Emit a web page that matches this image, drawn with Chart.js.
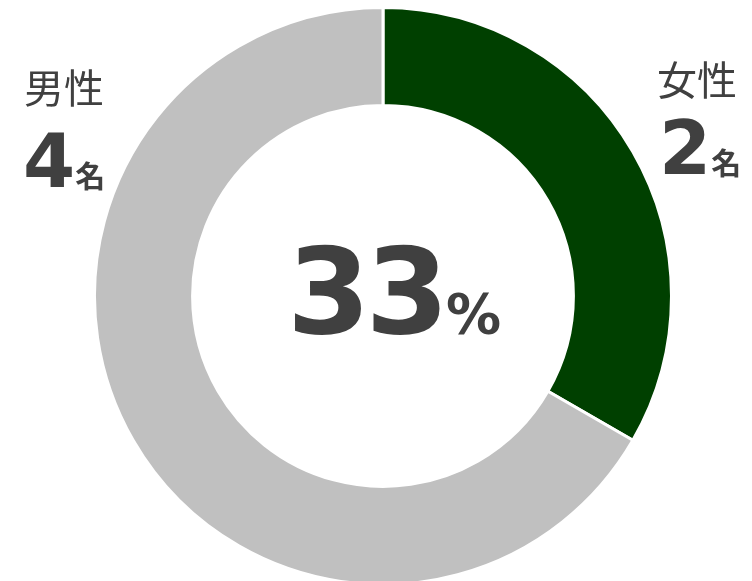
<!DOCTYPE html>
<html lang="ja">
<head>
  <meta charset="UTF-8">
  <title>男女比</title>
  <script src="https://cdn.jsdelivr.net/npm/chart.js"></script>
  <style>
    html, body { margin: 0; padding: 0; background: #ffffff; overflow: hidden; }
    .wrap { position: relative; width: 752px; height: 590px; }
    .lbl { position: absolute; color: #404040; line-height: 1; white-space: nowrap; }
    .cat { font-family: "Noto Sans CJK JP", sans-serif; font-size: 40px; }
    .num { font-family: "DejaVu Sans", sans-serif; font-weight: bold; font-size: 75px; }
    .num small { font-family: "Noto Sans CJK JP", sans-serif; font-weight: bold; font-size: 30px; }
    .pct { font-family: "DejaVu Sans", sans-serif; font-weight: bold; font-size: 120px; letter-spacing: -5px; }
    .pct small { font-size: 55px; letter-spacing: 0; margin-left: 2px; }
  </style>
</head>
<body>
  <div class="wrap">
    <canvas id="genderChart" width="752" height="590"></canvas>
    <div class="lbl cat" id="cat0" style="left:657px; top:58px;"></div>
    <div class="lbl num" id="num0" style="left:659px; top:111px;"></div>
    <div class="lbl cat" id="cat1" style="left:24px; top:66px;"></div>
    <div class="lbl num" id="num1" style="left:23px; top:124px;"></div>
    <div class="lbl pct" id="pct" style="left:287px; top:232px;"></div>
  </div>

  <script>
    // データ
    const categories = ['女性', '男性'];
    const counts = [2, 4];
    const unit = '名';
    const colors = ['#004000', '#c0c0c0'];

    const total = counts.reduce((a, b) => a + b, 0);
    const share = Math.round(counts[0] / total * 100);

    categories.forEach(function(name, i) {
      document.getElementById('cat' + i).textContent = name;
      document.getElementById('num' + i).innerHTML = counts[i] + '<small>' + unit + '</small>';
    });
    document.getElementById('pct').innerHTML = share + '<small>%</small>';

    const ctx = document.getElementById('genderChart').getContext('2d');
    new Chart(ctx, {
      type: 'doughnut',
      data: {
        labels: categories,
        datasets: [{
          data: counts,
          backgroundColor: colors,
          borderColor: '#ffffff',
          borderWidth: 3,
          hoverOffset: 0
        }]
      },
      options: {
        responsive: false,
        animation: false,
        cutout: '66%',
        layout: {
          padding: { left: 93, top: 6, right: 79, bottom: 4 }
        },
        plugins: {
          legend: { display: false },
          tooltip: { enabled: false }
        }
      }
    });
  </script>
</body>
</html>
